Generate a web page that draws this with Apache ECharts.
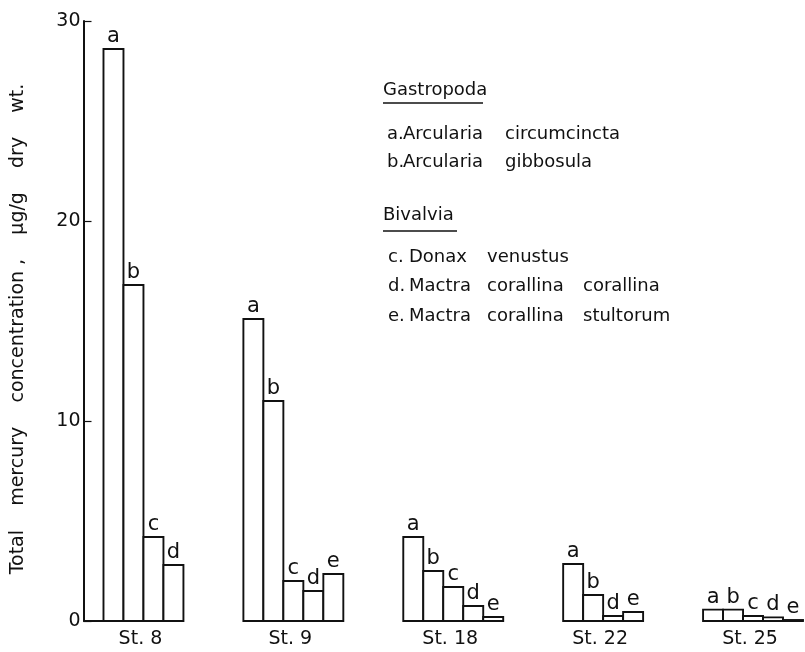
<!DOCTYPE html>
<html>
<head>
<meta charset="utf-8">
<script src="https://cdn.jsdelivr.net/npm/echarts@6/dist/echarts.min.js"></script>
<style>
  html, body { margin: 0; padding: 0; background: #fff; }
  #chart { width: 805px; height: 652px; }
</style>
</head>
<body>
<div id="chart"></div>
<script>
// ---------------- data ----------------
const stations = ['St. 8', 'St. 9', 'St. 18', 'St. 22', 'St. 25'];
const speciesLetters = ['a', 'b', 'c', 'd', 'e'];
const valuesA = [28.6, 15.1, 4.2, 2.85, 0.57];
const valuesB = [16.8, 11.0, 2.5, 1.3, 0.57];
const valuesC = [4.2, 2.0, 1.7, null, 0.25];
const valuesD = [2.8, 1.5, 0.75, 0.25, 0.18];
const valuesE = [null, 2.35, 0.2, 0.45, 0.05];
const yTicks = [0, 10, 20, 30];
const yTitle = 'Total    mercury    concentration ,    µg/g    dry    wt.';
const groupNames = ['Gastropoda', 'Bivalvia'];
const gastropodaNames = ['Arcularia circumcincta', 'Arcularia gibbosula'];
const bivalviaNames = ['Donax venustus', 'Mactra corallina corallina', 'Mactra corallina stultorum'];

// ---------------- layout ----------------
const FONT = 'DejaVu Sans';
const INK = '#111';
const FIRST_SLOT = 1;   // empty slot between axis and first group
const GAP_SLOTS = 3;    // empty slots between station groups
const allValues = [valuesA, valuesB, valuesC, valuesD, valuesE];

const barData = [];
const baseData = [];
const stationData = [];
let cursor = FIRST_SLOT;
stations.forEach((st, si) => {
  const start = cursor;
  allValues.forEach((arr, ki) => {
    const v = arr[si];
    if (v !== null && v !== undefined) {
      barData.push([cursor, v, ki, si]);
      cursor++;
    }
  });
  const end = cursor;
  baseData.push([si === 0 ? 0 : start, end]);
  stationData.push([(start + end) / 2, si]);
  cursor += GAP_SLOTS;
});
const totalSlots = cursor - GAP_SLOTS;

const chart = echarts.init(document.getElementById('chart'), null, { renderer: 'canvas' });

// legend graphics
const graphics = [];
function txt(text, x, y) {
  graphics.push({
    type: 'text', left: x, top: y - 11,
    style: { text: text, font: '18px "' + FONT + '"', fill: INK }
  });
}
function uline(x1, x2, y) {
  graphics.push({
    type: 'line', shape: { x1: x1, y1: y, x2: x2, y2: y },
    style: { stroke: INK, lineWidth: 1.6 }
  });
}
const legendGroups = [
  { title: groupNames[0], titleY: 92, ulineY: 103, ulineX2: 483, names: gastropodaNames,
    rowY: [136, 164], prefixX: 387, cols: [403, 505] },
  { title: groupNames[1], titleY: 217, ulineY: 231, ulineX2: 457, names: bivalviaNames,
    rowY: [259, 288.5, 318], prefixX: 388, cols: [409, 487, 583] }
];
let letterIdx = 0;
legendGroups.forEach(g => {
  txt(g.title, 383, g.titleY);
  uline(383, g.ulineX2, g.ulineY);
  g.names.forEach((name, i) => {
    txt(speciesLetters[letterIdx] + '.', g.prefixX, g.rowY[i]);
    name.split(' ').forEach((w, j) => txt(w, g.cols[j], g.rowY[i]));
    letterIdx++;
  });
});

const option = {
  backgroundColor: '#fff',
  animation: false,
  grid: { left: 83.5, right: 2, top: 21, bottom: 31, containLabel: false },
  xAxis: { type: 'value', min: 0, max: totalSlots, show: false },
  yAxis: {
    type: 'value', min: yTicks[0], max: yTicks[yTicks.length - 1], interval: 10,
    axisLine: { show: true, lineStyle: { color: INK, width: 2 } },
    axisTick: { show: true, inside: true, length: 8, lineStyle: { color: INK, width: 1.2 } },
    splitLine: { show: false },
    axisLabel: { fontFamily: FONT, fontSize: 19, color: INK, margin: 3 },
    name: yTitle, nameLocation: 'middle', nameRotate: 90, nameGap: 56,
    nameTextStyle: { fontFamily: FONT, fontSize: 19, color: INK, padding: [0, 16, 0, 0] }
  },
  graphic: graphics,
  series: [
    {
      type: 'custom', name: 'bars', data: barData, clip: false,
      encode: { x: 0, y: 1 },
      renderItem: function (params, api) {
        const slot = api.value(0), v = api.value(1);
        const p0 = api.coord([slot, v]);
        const p1 = api.coord([slot + 1, 0]);
        return {
          type: 'group',
          children: [
            { type: 'rect',
              shape: { x: p0[0], y: p0[1], width: p1[0] - p0[0], height: p1[1] - p0[1] },
              style: { fill: '#fff', stroke: INK, lineWidth: 1.9 } },
            { type: 'text',
              style: { text: speciesLetters[api.value(2)], x: (p0[0] + p1[0]) / 2, y: p0[1] - 2,
                       align: 'center', verticalAlign: 'bottom',
                       font: '21px "' + FONT + '"', fill: INK } }
          ]
        };
      }
    },
    {
      type: 'custom', name: 'baselines', data: baseData, clip: false,
      encode: { x: [0, 1] },
      renderItem: function (params, api) {
        const a = api.coord([api.value(0), 0]);
        const b = api.coord([api.value(1), 0]);
        return { type: 'line', shape: { x1: a[0], y1: a[1], x2: b[0], y2: b[1] },
                 style: { stroke: INK, lineWidth: 2.2 } };
      }
    },
    {
      type: 'custom', name: 'stations', data: stationData, clip: false,
      encode: { x: 0 },
      renderItem: function (params, api) {
        const p = api.coord([api.value(0), 0]);
        return { type: 'text',
                 style: { text: stations[api.value(1)], x: p[0] - 3, y: p[1] + 9,
                          align: 'center', verticalAlign: 'top',
                          font: '19px "' + FONT + '"', fill: INK } };
      }
    }
  ]
};
chart.setOption(option);
</script>
</body>
</html>
